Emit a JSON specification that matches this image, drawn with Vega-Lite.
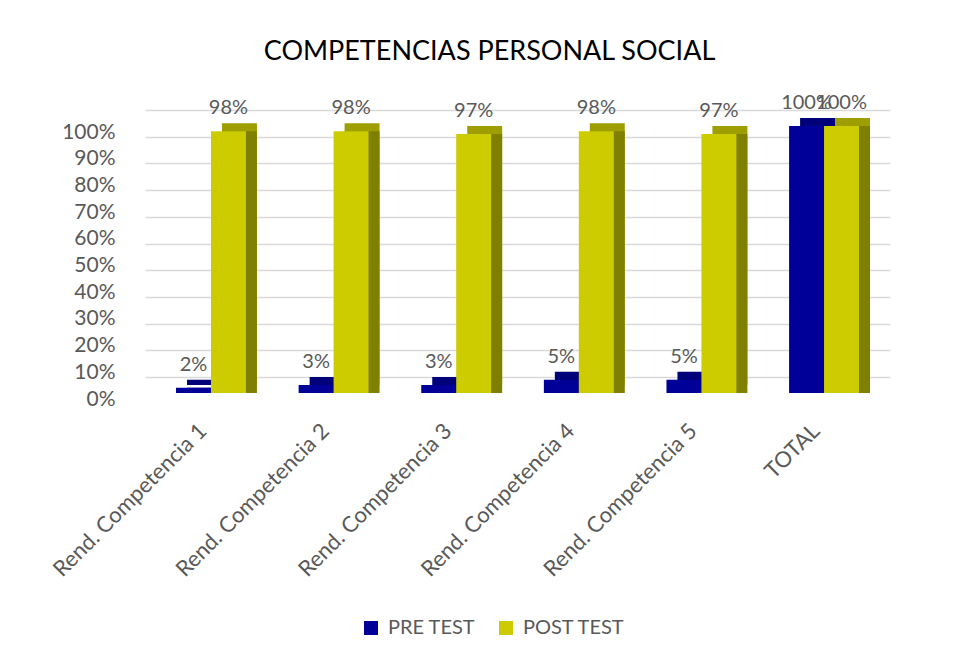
{
  "$schema": "https://vega.github.io/schema/vega-lite/v6.json",
  "width": 745,
  "height": 267,
  "autosize": {"type": "none"},
  "padding": {"left": 145, "top": 126, "right": 67, "bottom": 266},
  "background": "white",
  "title": {
    "text": "COMPETENCIAS PERSONAL SOCIAL",
    "font": "Lato",
    "fontSize": 27,
    "fontWeight": "normal",
    "color": "#000000",
    "anchor": "middle",
    "dx": -28,
    "offset": 27
  },
  "data": {
    "values": [
      {"cat": "Rend. Competencia 1", "serie": "PRE TEST", "value": 0.02},
      {"cat": "Rend. Competencia 1", "serie": "POST TEST", "value": 0.98},
      {"cat": "Rend. Competencia 2", "serie": "PRE TEST", "value": 0.03},
      {"cat": "Rend. Competencia 2", "serie": "POST TEST", "value": 0.98},
      {"cat": "Rend. Competencia 3", "serie": "PRE TEST", "value": 0.03},
      {"cat": "Rend. Competencia 3", "serie": "POST TEST", "value": 0.97},
      {"cat": "Rend. Competencia 4", "serie": "PRE TEST", "value": 0.05},
      {"cat": "Rend. Competencia 4", "serie": "POST TEST", "value": 0.98},
      {"cat": "Rend. Competencia 5", "serie": "PRE TEST", "value": 0.05},
      {"cat": "Rend. Competencia 5", "serie": "POST TEST", "value": 0.97},
      {"cat": "TOTAL", "serie": "PRE TEST", "value": 1.0},
      {"cat": "TOTAL", "serie": "POST TEST", "value": 1.0}
    ]
  },
  "encoding": {
    "x": {
      "field": "cat",
      "type": "nominal",
      "sort": null,
      "scale": {"paddingInner": 0.43, "paddingOuter": 0.253},
      "axis": {
        "title": null,
        "labelAngle": -45,
        "labelAlign": "right",
        "labelBaseline": "middle",
        "labelFont": "Lato",
        "labelFontSize": 22,
        "labelColor": "#595959",
        "labelPadding": 34,
        "labelOffset": -8,
        "labelLimit": 400,
        "ticks": false,
        "domain": false,
        "grid": false
      }
    },
    "y": {
      "field": "value",
      "type": "quantitative",
      "scale": {"domain": [0, 1], "nice": false},
      "axis": {
        "title": null,
        "format": ".0%",
        "values": [0, 0.1, 0.2, 0.3, 0.4, 0.5, 0.6, 0.7, 0.8, 0.9, 1],
        "labelFont": "Lato",
        "labelFontSize": 21,
        "labelColor": "#595959",
        "labelPadding": 30,
        "labelOffset": 22,
        "tickOffset": -16,
        "ticks": false,
        "domain": false,
        "grid": true,
        "gridColor": "#D9D9D9",
        "gridWidth": 1.5
      }
    }
  },
  "layer": [
    {
      "mark": {"type": "bar", "yOffset": -8, "y2Offset": 0},
      "encoding": {
        "xOffset": {
          "field": "serie",
          "type": "nominal",
          "sort": ["PRE TEST", "POST TEST"],
          "scale": {"type": "band", "domain": ["PRE TEST", "POST TEST"], "range": [11, 80.9], "paddingInner": 0, "paddingOuter": 0}
        },
        "color": {
          "field": "serie",
          "type": "nominal",
          "scale": {"domain": ["PRE TEST", "POST TEST"], "range": ["#00007A", "#9E9E00"]},
          "legend": null
        }
      }
    },
    {
      "mark": {"type": "bar", "yOffset": 0, "y2Offset": 0},
      "encoding": {
        "xOffset": {
          "field": "serie",
          "type": "nominal",
          "sort": ["PRE TEST", "POST TEST"],
          "scale": {"type": "band", "domain": ["PRE TEST", "POST TEST"], "range": [11, 80.9], "paddingInner": 0, "paddingOuter": 0}
        },
        "color": {
          "field": "serie",
          "type": "nominal",
          "scale": {"domain": ["PRE TEST", "POST TEST"], "range": ["#000066", "#808000"]},
          "legend": null
        }
      }
    },
    {
      "mark": {"type": "bar"},
      "encoding": {
        "xOffset": {
          "field": "serie",
          "type": "nominal",
          "sort": ["PRE TEST", "POST TEST"],
          "scale": {"type": "band", "domain": ["PRE TEST", "POST TEST"], "range": [0, 69.9], "paddingInner": 0, "paddingOuter": 0}
        },
        "color": {
          "field": "serie",
          "type": "nominal",
          "scale": {"domain": ["PRE TEST", "POST TEST"], "range": ["#000099", "#CCCC00"]},
          "legend": {
            "title": null,
            "orient": "none",
            "legendX": 216,
            "legendY": 492,
            "direction": "horizontal",
            "symbolType": "square",
            "symbolSize": 196,
            "symbolStrokeWidth": 0,
            "labelFont": "Lato",
            "labelFontSize": 20,
            "labelColor": "#595959",
            "labelOffset": 7,
            "columnPadding": 20
          }
        }
      }
    },
    {
      "mark": {
        "type": "text",
        "font": "Lato",
        "fontSize": 20,
        "color": "#595959",
        "baseline": "alphabetic",
        "dy": -17
      },
      "encoding": {
        "xOffset": {
          "field": "serie",
          "type": "nominal",
          "sort": ["PRE TEST", "POST TEST"],
          "scale": {"type": "band", "domain": ["PRE TEST", "POST TEST"], "range": [0, 69.9], "paddingInner": 0, "paddingOuter": 0}
        },
        "text": {"field": "value", "type": "quantitative", "format": ".0%"}
      }
    }
  ],
  "resolve": {"scale": {"color": "independent", "xOffset": "independent"}},
  "config": {"view": {"stroke": null}}
}
